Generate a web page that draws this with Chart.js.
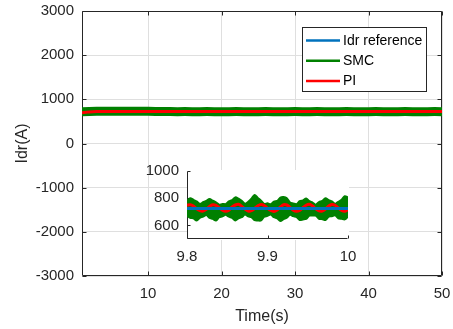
<!DOCTYPE html>
<html lang="en">
<head>
  <meta charset="UTF-8">
  <title>Idr response</title>
  <script src="https://cdn.jsdelivr.net/npm/chart.js"></script>
  <style>
    body { margin: 0; background: #fff; }
    .wrap { position: relative; width: 453px; height: 329px; }
    .wrap canvas { position: absolute; left: 0; top: 0; }
  </style>
</head>
<body>
<div class="wrap">
  <canvas id="mainChart" width="453" height="329"></canvas>
  <!-- zoomed view 9.8 ~ 10 s -->
  <canvas id="zoomChart" width="453" height="329"></canvas>
</div>

<script>
  // main plot, 1 s steps
  const timeMain = [1, 2, 3, 4, 5, 6, 7, 8, 9, 10, 11, 12, 13, 14, 15, 16, 17, 18, 19, 20,
    21, 22, 23, 24, 25, 26, 27, 28, 29, 30, 31, 32, 33, 34, 35, 36, 37, 38, 39, 40,
    41, 42, 43, 44, 45, 46, 47, 48, 49, 50];
  const smcMain = [718, 726, 730, 732, 730, 731, 733, 730, 732, 729, 727, 724, 722, 721, 722, 720, 721, 722, 720, 721,
    720, 722, 721, 720, 721, 722, 720, 721, 720, 722, 721, 720, 722, 721, 720, 721, 722, 720, 721, 720,
    722, 721, 720, 721, 722, 720, 721, 720, 722, 721];
  const piMain = [695, 716, 722, 725, 723, 726, 724, 722, 725, 724, 726, 723, 725, 722, 724, 726, 723, 725, 724, 722,
    725, 723, 726, 724, 722, 725, 723, 724, 726, 722, 725, 724, 723, 726, 724, 722, 725, 723, 724, 726,
    723, 725, 722, 724, 726, 723, 725, 724, 722, 725];
  const refTime = [1, 50];
  const refMain = [725, 725];

  // zoomed plot, 9.8 ~ 10 s
  const timeZoom = [9.800, 9.804, 9.808, 9.812, 9.816, 9.820, 9.824, 9.828, 9.832, 9.836,
    9.840, 9.844, 9.848, 9.852, 9.856, 9.860, 9.864, 9.868, 9.872, 9.876,
    9.880, 9.884, 9.888, 9.892, 9.896, 9.900, 9.904, 9.908, 9.912, 9.916,
    9.920, 9.924, 9.928, 9.932, 9.936, 9.940, 9.944, 9.948, 9.952, 9.956,
    9.960, 9.964, 9.968, 9.972, 9.976, 9.980, 9.984, 9.988, 9.992, 9.996, 10.000];
  const smcZoomHigh = [780, 800, 788, 776, 758, 770, 780, 795, 782, 770,
    752, 758, 756, 776, 786, 806, 796, 780, 760, 774,
    796, 824, 802, 782, 758, 762, 755, 775, 780, 804,
    808, 800, 768, 762, 756, 778, 784, 798, 778, 768,
    752, 772, 780, 800, 786, 776, 758, 774, 788, 815, 806];
  const smcZoomLow = [672, 656, 652, 636, 656, 664, 676, 656, 648, 636,
    660, 666, 678, 664, 656, 636, 652, 660, 680, 666,
    660, 638, 636, 636, 664, 670, 680, 660, 652, 632,
    646, 656, 678, 668, 662, 640, 644, 648, 672, 672,
    672, 648, 646, 640, 664, 668, 674, 652, 648, 644, 666];
  const piZoom = [748, 752, 742, 722, 708, 705, 718, 740, 752, 748,
    730, 712, 704, 712, 735, 750, 755, 740, 720, 706,
    708, 725, 745, 754, 746, 726, 710, 703, 714, 736,
    752, 750, 732, 712, 704, 710, 730, 748, 755, 742,
    722, 707, 706, 720, 742, 754, 748, 728, 710, 704, 716];
  const refZoomTime = [9.8, 10];
  const refZoom = [725, 725];

  const xTicksMain = [10, 20, 30, 40, 50];
  const yTicksMain = [-3000, -2000, -1000, 0, 1000, 2000, 3000];
  const xTicksZoom = [9.8, 9.9, 10];
  const yTicksZoom = [600, 800, 1000];

  const pts = (xs, ys) => xs.map((x, i) => ({x: x, y: ys[i]}));
  const setTicks = (list) => (scale) => { scale.ticks = list.map(v => ({value: v})); };
  const plain = v => String(v);
  // fixed axis size, no extra label padding from chart.js
  const fixSize = (w, h) => (s) => {
    if (w !== null) s.width = w;
    if (h !== null) s.height = h;
    s.paddingLeft = 0; s.paddingRight = 0; s.paddingTop = 0; s.paddingBottom = 0;
  };

  Chart.defaults.font.family = '"Liberation Sans", Arial, sans-serif';
  Chart.defaults.color = '#262626';
  Chart.defaults.animation = false;

  // axes box + inward ticks, drawn under the data like matlab
  const frame = {
    id: 'frame',
    beforeDraw(chart, args, opts) {
      if (!opts.white) return;
      const a = chart.chartArea;
      chart.ctx.save();
      chart.ctx.fillStyle = '#fff';
      chart.ctx.fillRect(a.left, a.top - 1, a.right - a.left + 1, a.bottom - a.top + 2);
      chart.ctx.restore();
    },
    beforeDatasetsDraw(chart, args, opts) {
      const {ctx, chartArea: a, scales: {x, y}} = chart;
      const L = Math.round(a.left) + 0.5, R = Math.round(a.right) - 0.5;
      const T = Math.round(a.top) + 0.5, B = Math.round(a.bottom) - 0.5;
      const t = opts.tick;
      ctx.save();
      ctx.strokeStyle = '#262626';
      ctx.lineWidth = 1;
      ctx.beginPath();
      ctx.moveTo(L, T); ctx.lineTo(L, B); ctx.lineTo(R, B);
      if (opts.box) { ctx.lineTo(R, T); ctx.lineTo(L, T); }
      x.ticks.forEach(k => {
        const px = Math.round(x.getPixelForValue(k.value)) + 0.5;
        ctx.moveTo(px, B); ctx.lineTo(px, B - t);
        if (opts.box) { ctx.moveTo(px, T); ctx.lineTo(px, T + t); }
      });
      y.ticks.forEach(k => {
        const py = Math.round(y.getPixelForValue(k.value)) + 0.5;
        ctx.moveTo(L, py); ctx.lineTo(L + t, py);
        if (opts.box) { ctx.moveTo(R, py); ctx.lineTo(R - t, py); }
      });
      ctx.stroke();
      ctx.restore();
    }
  };

  // legend with a border, top right inside the axes
  const boxLegend = {
    id: 'boxLegend',
    afterDatasetsDraw(chart, args, o) {
      const ctx = chart.ctx;
      ctx.save();
      ctx.fillStyle = '#fff';
      ctx.fillRect(o.x, o.y, o.w, o.h);
      ctx.strokeStyle = '#262626';
      ctx.lineWidth = 1;
      ctx.strokeRect(o.x + 0.5, o.y + 0.5, o.w, o.h);
      ctx.font = '14px "Liberation Sans", Arial, sans-serif';
      ctx.textBaseline = 'middle';
      chart.data.datasets.forEach((ds, i) => {
        const yy = o.y + o.first + i * o.step;
        ctx.strokeStyle = ds.borderColor;
        ctx.lineWidth = 2.5;
        ctx.beginPath();
        ctx.moveTo(o.x + 4, yy);
        ctx.lineTo(o.x + 38, yy);
        ctx.stroke();
        ctx.fillStyle = '#000';
        ctx.fillText(ds.label, o.x + 41, yy + 0.5);
      });
      ctx.restore();
    }
  };

  new Chart(document.getElementById('mainChart'), {
    type: 'line',
    data: {
      datasets: [
        {label: 'Idr reference', data: pts(refTime, refMain), borderColor: '#0072bd', borderWidth: 3, order: 3},
        {label: 'SMC', data: pts(timeMain, smcMain), borderColor: '#008000', borderWidth: 9, order: 2},
        {label: 'PI', data: pts(timeMain, piMain), borderColor: '#ff0000', borderWidth: 3, order: 1}
      ]
    },
    options: {
      responsive: false,
      elements: {point: {radius: 0}, line: {tension: 0}},
      layout: {padding: {left: 0, top: 11, right: 11, bottom: 0}},
      scales: {
        x: {
          type: 'linear', min: 1, max: 50,
          afterBuildTicks: setTicks(xTicksMain),
          afterFit: fixSize(null, 53),
          grid: {color: '#dfdfdf', drawTicks: false},
          border: {display: false},
          ticks: {font: {size: 15}, padding: 9, maxRotation: 0, callback: plain},
          title: {display: true, text: 'Time(s)', font: {size: 16}, padding: {top: 0, bottom: 3}}
        },
        y: {
          min: -3000, max: 3000,
          afterBuildTicks: setTicks(yTicksMain),
          afterFit: fixSize(82, null),
          grid: {color: '#dfdfdf', drawTicks: false},
          border: {display: false},
          ticks: {font: {size: 15}, padding: 8, callback: plain},
          title: {display: true, text: 'Idr(A)', font: {size: 16}, padding: {top: 13, bottom: 0}}
        }
      },
      plugins: {
        legend: {display: false},
        tooltip: {enabled: false},
        frame: {box: true, tick: 4, white: false},
        boxLegend: {x: 302, y: 27, w: 124, h: 64, first: 13.5, step: 20.2}
      }
    },
    plugins: [frame, boxLegend]
  });

  new Chart(document.getElementById('zoomChart'), {
    type: 'line',
    data: {
      datasets: [
        {label: 'Idr reference', data: pts(refZoomTime, refZoom), borderColor: '#0072bd', borderWidth: 3},
        {label: 'PI', data: pts(timeZoom, piZoom), borderColor: '#ff0000', borderWidth: 3, tension: 0.3},
        {label: 'SMC', data: pts(timeZoom, smcZoomHigh), borderColor: '#008000', borderWidth: 2, tension: 0.3},
        {label: 'SMC', data: pts(timeZoom, smcZoomLow), borderColor: '#008000', borderWidth: 2, tension: 0.3,
          fill: '-1', backgroundColor: '#008000'}
      ]
    },
    options: {
      responsive: false,
      elements: {point: {radius: 0}, line: {tension: 0}},
      layout: {padding: {left: 0, top: 171, right: 105, bottom: 0}},
      scales: {
        x: {
          type: 'linear', min: 9.8, max: 10,
          afterBuildTicks: setTicks(xTicksZoom),
          afterFit: fixSize(null, 90),
          grid: {display: false, drawTicks: false},
          border: {display: false},
          ticks: {font: {size: 15}, padding: 9, maxRotation: 0, callback: plain}
        },
        y: {
          min: 500, max: 1000,
          afterBuildTicks: setTicks(yTicksZoom),
          afterFit: fixSize(187, null),
          grid: {display: false, drawTicks: false},
          border: {display: false},
          ticks: {font: {size: 15}, padding: 8, callback: plain}
        }
      },
      plugins: {
        legend: {display: false},
        tooltip: {enabled: false},
        frame: {box: false, tick: 3, white: true}
      }
    },
    plugins: [frame]
  });
</script>
</body>
</html>
